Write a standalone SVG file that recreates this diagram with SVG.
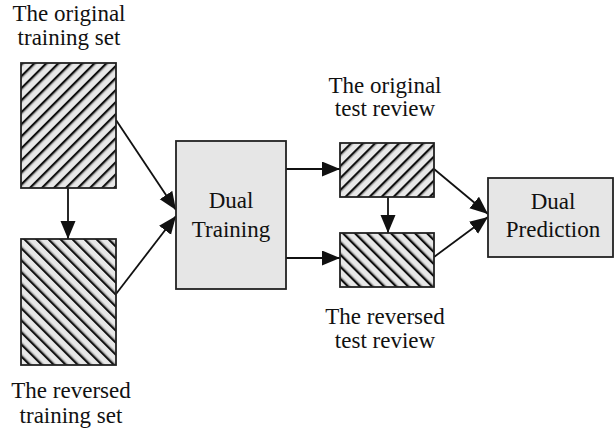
<svg xmlns="http://www.w3.org/2000/svg" width="614" height="435" viewBox="0 0 614 435">
<style>
.t{font-family:"Liberation Serif","Times New Roman",serif;font-size:23px;fill:#111;text-anchor:middle}
.box{fill:#e6e6e6;stroke:#222;stroke-width:1.8}
.c{stroke:#111;stroke-width:1.8;fill:none;marker-end:url(#ah)}
</style>
<defs>
<marker id="ah" markerUnits="userSpaceOnUse" markerWidth="20" markerHeight="16" refX="18" refY="7.5" orient="auto">
<path d="M0,0 L18,7.5 L0,15 Z" fill="#111"/>
</marker>
<pattern id="hf" patternUnits="userSpaceOnUse" width="8.5" height="8.5" patternTransform="rotate(45)">
<rect width="8.5" height="8.5" fill="#e8e8e8"/>
<rect x="0" y="0" width="2.2" height="8.5" fill="#111"/>
<rect x="2.2" y="0" width="0.9" height="8.5" fill="#888"/>
</pattern>
<pattern id="hb" patternUnits="userSpaceOnUse" width="8.5" height="8.5" patternTransform="rotate(-45)">
<rect width="8.5" height="8.5" fill="#e8e8e8"/>
<rect x="0" y="0" width="2.2" height="8.5" fill="#111"/>
<rect x="2.2" y="0" width="0.9" height="8.5" fill="#888"/>
</pattern>
</defs>
<g id="connectors">
<line class="c" x1="68" y1="188" x2="68" y2="239"/>
<line class="c" x1="116" y1="120" x2="176" y2="210"/>
<line class="c" x1="116" y1="294" x2="176" y2="216"/>
<line class="c" x1="286" y1="169" x2="340" y2="169"/>
<line class="c" x1="286" y1="258" x2="340" y2="258"/>
<line class="c" x1="388" y1="197" x2="388" y2="233"/>
<line class="c" x1="434" y1="169" x2="488" y2="214"/>
<line class="c" x1="434" y1="257" x2="488" y2="217"/>
</g>
<g id="orig-train">
<rect x="21" y="63" width="95" height="125" fill="url(#hf)" stroke="#222" stroke-width="1.8"/>
<text class="t" x="69" y="21">The original</text>
<text class="t" x="69" y="45">training set</text>
</g>
<g id="rev-train">
<rect x="21" y="239" width="95" height="126" fill="url(#hb)" stroke="#222" stroke-width="1.8"/>
<text class="t" x="71" y="398">The reversed</text>
<text class="t" x="71" y="423">training set</text>
</g>
<g id="dual-training">
<rect class="box" x="176" y="141" width="110" height="148"/>
<text class="t" x="231" y="208">Dual</text>
<text class="t" x="231" y="237">Training</text>
</g>
<g id="orig-test">
<rect x="340" y="143" width="94" height="54" fill="url(#hf)" stroke="#222" stroke-width="1.8"/>
<text class="t" x="385" y="93">The original</text>
<text class="t" x="385" y="116">test review</text>
</g>
<g id="rev-test">
<rect x="340" y="233" width="94" height="54" fill="url(#hb)" stroke="#222" stroke-width="1.8"/>
<text class="t" x="385" y="324">The reversed</text>
<text class="t" x="385" y="348">test review</text>
</g>
<g id="dual-prediction">
<rect class="box" x="488" y="178" width="125" height="79"/>
<text class="t" x="553" y="209">Dual</text>
<text class="t" x="553" y="237">Prediction</text>
</g>
</svg>
